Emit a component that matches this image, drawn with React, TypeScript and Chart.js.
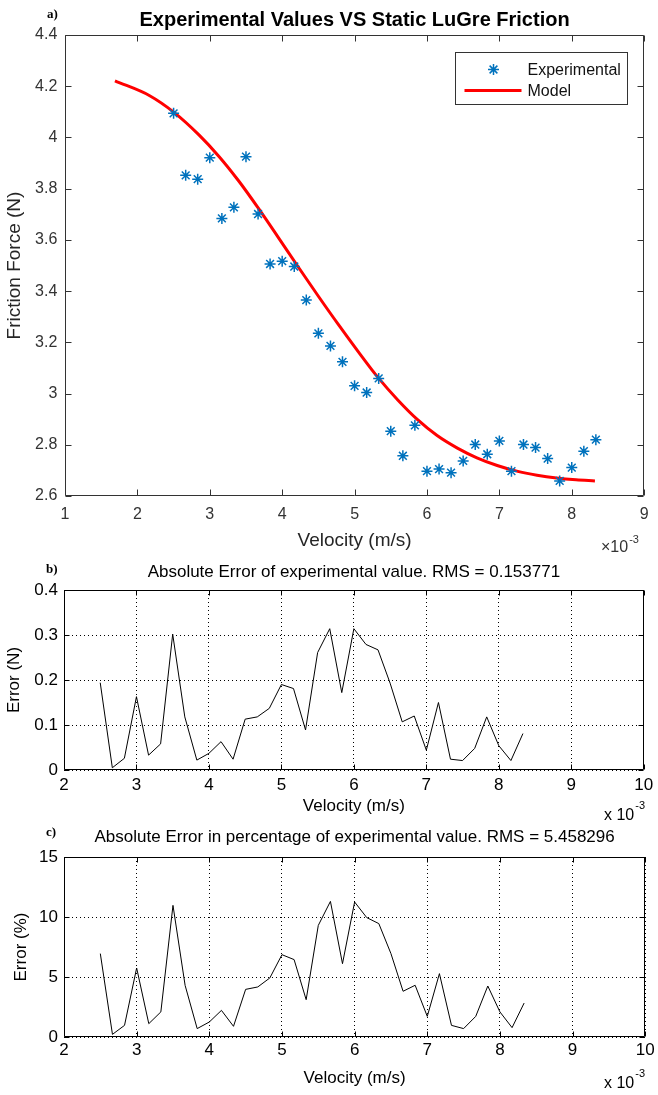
import React, { useEffect, useRef } from 'react';
import { Chart, registerables } from 'chart.js';

Chart.register(...registerables);

// Velocity in units of 1e-3 m/s (axes show "x 10^-3")
const velocity = [
  2.5, 2.667, 2.833, 3.0, 3.167, 3.333, 3.5, 3.667, 3.833, 4.0, 4.167, 4.333,
  4.5, 4.667, 4.833, 5.0, 5.167, 5.333, 5.5, 5.667, 5.833, 6.0, 6.167, 6.333,
  6.5, 6.667, 6.833, 7.0, 7.167, 7.333, 7.5, 7.667, 7.833, 8.0, 8.167, 8.333,
];

const experimentalForce = [
  4.094, 3.852, 3.837, 3.921, 3.684, 3.727, 3.925, 3.701, 3.506, 3.517, 3.496, 3.365,
  3.235, 3.186, 3.124, 3.030, 3.004, 3.059, 2.853, 2.757, 2.876, 2.697, 2.705, 2.691,
  2.737, 2.801, 2.763, 2.815, 2.697, 2.801, 2.789, 2.746, 2.659, 2.711, 2.775, 2.820,
];

const modelVelocity = [
  1.69, 2.17, 2.51, 2.85, 3.13, 3.4, 3.68, 3.95, 4.22, 4.5, 4.77, 5.05,
  5.32, 5.6, 5.87, 6.14, 6.42, 6.69, 6.97, 7.24, 7.52, 7.79, 8.06, 8.32,
];

const modelForce = [
  4.221, 4.163, 4.097, 4.01, 3.925, 3.83, 3.72, 3.608, 3.495, 3.38, 3.272, 3.164,
  3.064, 2.974, 2.898, 2.836, 2.787, 2.749, 2.719, 2.697, 2.681, 2.67, 2.663, 2.659,
];

const absoluteError = [
  0.194, 0.005, 0.026, 0.163, 0.033, 0.058, 0.302, 0.118, 0.022, 0.037, 0.063, 0.024,
  0.113, 0.118, 0.137, 0.19, 0.181, 0.089, 0.261, 0.314, 0.172, 0.314, 0.279, 0.267,
  0.193, 0.107, 0.12, 0.044, 0.15, 0.024, 0.021, 0.048, 0.118, 0.054, 0.021, 0.081,
];

const percentError = [
  6.95, 0.22, 0.97, 5.75, 1.11, 2.09, 10.97, 4.3, 0.7, 1.25, 2.22, 0.89,
  3.97, 4.17, 4.92, 6.86, 6.45, 3.11, 9.3, 11.3, 6.11, 11.25, 9.95, 9.45,
  6.95, 3.81, 4.31, 1.72, 5.28, 0.97, 0.7, 1.72, 4.25, 2.09, 0.78, 2.83,
];

// axis ranges: [min, max, step]
const velocityAxisA = [1, 9, 1];
const forceAxis = [2.6, 4.4, 0.2];
const velocityAxisB = [2, 10, 1];
const absErrorAxis = [0, 0.4, 0.1];
const pctErrorAxis = [0, 15, 5];

const SANS = '"Liberation Sans", Arial, Helvetica, sans-serif';
const SERIF = '"Liberation Serif", "Times New Roman", serif';

const cleanTick = (v: any) => String(Math.round(Number(v) * 1000) / 1000);

const framePlugin = {
  id: 'frame',
  afterDraw(chart: any, _a: any, o: any) {
    const { ctx, chartArea } = chart;
    const l = Math.round(chartArea.left) + 0.5;
    const r = Math.round(chartArea.right) - 0.5;
    const t = Math.round(chartArea.top) + 0.5;
    const b = Math.round(chartArea.bottom) - 0.5;
    const xs = chart.scales.x;
    const ys = chart.scales.y;
    ctx.save();
    ctx.setLineDash([]);
    ctx.strokeStyle = o.color;
    ctx.lineWidth = 1;
    ctx.beginPath();
    xs.ticks.forEach((_t: any, i: number) => {
      const p = Math.round(xs.getPixelForTick(i)) + 0.5;
      ctx.moveTo(p, b);
      ctx.lineTo(p, b - o.tick);
      ctx.moveTo(p, t);
      ctx.lineTo(p, t + o.tick);
    });
    ys.ticks.forEach((_t: any, i: number) => {
      const p = Math.round(ys.getPixelForTick(i)) + 0.5;
      ctx.moveTo(l, p);
      ctx.lineTo(l + o.tick, p);
      ctx.moveTo(r, p);
      ctx.lineTo(r - o.tick, p);
    });
    ctx.rect(l, t, r - l, b - t);
    ctx.stroke();
    ctx.restore();
  },
};

const boxLegendPlugin = {
  id: 'boxLegend',
  afterDraw(chart: any, _a: any, o: any) {
    if (!o || !o.show) return;
    const { ctx, chartArea } = chart;
    const w = 172;
    const h = 52;
    const left = Math.round(chartArea.right - 17 - w) + 0.5;
    const top = Math.round(chartArea.top + 17) + 0.5;
    const ds = chart.data.datasets;
    ctx.save();
    ctx.fillStyle = '#fff';
    ctx.fillRect(left, top, w, h);
    ctx.strokeStyle = '#333';
    ctx.lineWidth = 1;
    ctx.strokeRect(left, top, w, h);
    const y1 = top + 17;
    const y2 = top + 38;
    const mx = left + 38;
    const rad = 5.5;
    ctx.strokeStyle = ds[0].pointBorderColor;
    ctx.lineWidth = 1.5;
    ctx.beginPath();
    for (let k = 0; k < 4; k++) {
      const ang = (k * Math.PI) / 4;
      ctx.moveTo(mx - Math.cos(ang) * rad, y1 - Math.sin(ang) * rad);
      ctx.lineTo(mx + Math.cos(ang) * rad, y1 + Math.sin(ang) * rad);
    }
    ctx.stroke();
    ctx.strokeStyle = ds[1].borderColor;
    ctx.lineWidth = 3;
    ctx.beginPath();
    ctx.moveTo(left + 9, y2);
    ctx.lineTo(left + 66, y2);
    ctx.stroke();
    ctx.fillStyle = '#111';
    ctx.font = `16px ${SANS}`;
    ctx.textAlign = 'left';
    ctx.textBaseline = 'middle';
    ctx.fillText(ds[0].label, left + 72, y1 + 1);
    ctx.fillText(ds[1].label, left + 72, y2 + 1);
    ctx.restore();
  },
};

const annotatePlugin = {
  id: 'annotate',
  afterDraw(chart: any, _a: any, o: any) {
    const { ctx, chartArea } = chart;
    ctx.save();
    ctx.textBaseline = 'alphabetic';
    if (o.title) {
      ctx.font = o.title.font;
      ctx.fillStyle = o.title.color;
      ctx.textAlign = 'center';
      ctx.fillText(o.title.text, (chartArea.left + chartArea.right) / 2, o.title.y);
    }
    if (o.tag) {
      ctx.font = o.tag.font;
      ctx.fillStyle = '#000';
      ctx.textAlign = 'left';
      ctx.fillText(o.tag.text, o.tag.x, o.tag.y);
    }
    if (o.exponent) {
      const e = o.exponent;
      ctx.fillStyle = e.color;
      ctx.textAlign = 'left';
      ctx.font = e.font;
      ctx.fillText(e.base, e.x, e.y);
      const wBase = ctx.measureText(e.base).width;
      ctx.font = e.supFont;
      ctx.fillText(e.sup, e.x + wBase + 1, e.y - e.raise);
    }
    ctx.restore();
  },
};

function configA(): any {
  const tickColor = '#333';
  return {
    type: 'scatter',
    data: {
      datasets: [
        {
          label: 'Experimental',
          data: velocity.map((v, i) => ({ x: v, y: experimentalForce[i] })),
          showLine: false,
          pointStyle: 'star',
          pointRadius: 5.5,
          pointBorderWidth: 1.5,
          pointBorderColor: '#0072BD',
          pointBackgroundColor: '#0072BD',
          order: 0,
        },
        {
          label: 'Model',
          data: modelVelocity.map((v, i) => ({ x: v, y: modelForce[i] })),
          showLine: true,
          borderColor: '#ff0000',
          borderWidth: 3,
          pointRadius: 0,
          cubicInterpolationMode: 'monotone',
          order: 1,
        },
      ],
    },
    options: {
      responsive: false,
      animation: false,
      devicePixelRatio: 1,
      events: [],
      layout: { padding: { left: 0, right: 10, top: 35, bottom: 0 } },
      plugins: {
        legend: { display: false },
        tooltip: { enabled: false },
        frame: { color: '#333', tick: 6 },
        boxLegend: { show: true },
        annotate: {
          title: {
            text: 'Experimental Values VS Static LuGre Friction',
            font: `bold 20px ${SANS}`,
            color: '#000',
            y: 26,
          },
          tag: { text: 'a)', font: `bold 13px ${SERIF}`, x: 47, y: 18 },
          exponent: {
            base: '\u00d710',
            sup: '-3',
            font: `16px ${SANS}`,
            supFont: `11px ${SANS}`,
            color: '#333',
            x: 601,
            y: 552,
            raise: 9,
          },
        },
      },
      scales: {
        x: {
          type: 'linear',
          min: velocityAxisA[0],
          max: velocityAxisA[1],
          ticks: {
            stepSize: velocityAxisA[2],
            autoSkip: false,
            maxRotation: 0,
            padding: 9.4,
            color: tickColor,
            font: { family: SANS, size: 16 },
            callback: cleanTick,
          },
          grid: { display: false, drawTicks: false },
          border: { display: false },
          title: {
            display: true,
            text: 'Velocity (m/s)',
            color: '#262626',
            font: { family: SANS, size: 19 },
            padding: { top: 0, bottom: 7.6 },
          },
          afterFit: (s: any) => {
            s.height = 64;
          },
        },
        y: {
          type: 'linear',
          min: forceAxis[0],
          max: forceAxis[1],
          ticks: {
            stepSize: forceAxis[2],
            autoSkip: false,
            padding: 7.7,
            color: tickColor,
            font: { family: SANS, size: 16 },
            callback: cleanTick,
          },
          grid: { display: false, drawTicks: false },
          border: { display: false },
          title: {
            display: true,
            text: 'Friction Force (N)',
            color: '#262626',
            font: { family: SANS, size: 19 },
            padding: { top: 3.6, bottom: 0 },
          },
          afterFit: (s: any) => {
            s.width = 65;
          },
        },
      },
    },
    plugins: [framePlugin, boxLegendPlugin, annotatePlugin],
  };
}

function configError(
  values: number[],
  yAxis: number[],
  yLabel: string,
  title: string,
  tag: string,
  geo: {
    xHeight: number;
    xTickPad: number;
    xTitlePad: number;
    yTitlePad: number;
    titleY: number;
    tagY: number;
    expY: number;
  }
): any {
  return {
    type: 'scatter',
    data: {
      datasets: [
        {
          label: yLabel,
          data: velocity.map((v, i) => ({ x: v, y: values[i] })),
          showLine: true,
          borderColor: '#000',
          borderWidth: 1,
          pointRadius: 0,
          tension: 0,
        },
      ],
    },
    options: {
      responsive: false,
      animation: false,
      devicePixelRatio: 1,
      events: [],
      layout: { padding: { left: 0, right: 10, top: 35, bottom: 0 } },
      plugins: {
        legend: { display: false },
        tooltip: { enabled: false },
        frame: { color: '#000', tick: 5 },
        boxLegend: { show: false },
        annotate: {
          title: { text: title, font: `17px ${SANS}`, color: '#000', y: geo.titleY },
          tag: { text: tag, font: `bold 13px ${SERIF}`, x: 46, y: geo.tagY },
          exponent: {
            base: 'x 10',
            sup: '-3',
            font: `16px ${SANS}`,
            supFont: `11px ${SANS}`,
            color: '#000',
            x: 604,
            y: geo.expY,
            raise: 11,
          },
        },
      },
      scales: {
        x: {
          type: 'linear',
          min: velocityAxisB[0],
          max: velocityAxisB[1],
          ticks: {
            stepSize: velocityAxisB[2],
            autoSkip: false,
            maxRotation: 0,
            padding: geo.xTickPad,
            color: '#000',
            font: { family: SANS, size: 17 },
            callback: cleanTick,
          },
          grid: { color: '#000', lineWidth: 1, drawTicks: false },
          border: { display: false, dash: [1, 3] },
          title: {
            display: true,
            text: 'Velocity (m/s)',
            color: '#000',
            font: { family: SANS, size: 17 },
            padding: { top: 0, bottom: geo.xTitlePad },
          },
          afterFit: (s: any) => {
            s.height = geo.xHeight;
          },
        },
        y: {
          type: 'linear',
          min: yAxis[0],
          max: yAxis[1],
          ticks: {
            stepSize: yAxis[2],
            autoSkip: false,
            padding: 6,
            color: '#000',
            font: { family: SANS, size: 17 },
            callback: cleanTick,
          },
          grid: { color: '#000', lineWidth: 1, drawTicks: false },
          border: { display: false, dash: [1, 3] },
          title: {
            display: true,
            text: yLabel,
            color: '#000',
            font: { family: SANS, size: 17 },
            padding: { top: geo.yTitlePad, bottom: 0 },
          },
          afterFit: (s: any) => {
            s.width = 64;
          },
        },
      },
    },
    plugins: [framePlugin, annotatePlugin],
  };
}

export default function App() {
  const refA = useRef<HTMLCanvasElement>(null);
  const refB = useRef<HTMLCanvasElement>(null);
  const refC = useRef<HTMLCanvasElement>(null);

  useEffect(() => {
    const charts: Chart[] = [];
    if (refA.current) charts.push(new Chart(refA.current, configA()));
    if (refB.current)
      charts.push(
        new Chart(
          refB.current,
          configError(
            absoluteError,
            absErrorAxis,
            'Error (N)',
            'Absolute Error of experimental value. RMS = 0.153771',
            'b)',
            { xHeight: 60, xTickPad: 4.8, xTitlePad: 13.1, yTitlePad: 3.8, titleY: 22, tagY: 18, expY: 265 }
          )
        )
      );
    if (refC.current)
      charts.push(
        new Chart(
          refC.current,
          configError(
            percentError,
            pctErrorAxis,
            'Error (%)',
            'Absolute Error in percentage of experimental value. RMS = 5.458296',
            'c)',
            { xHeight: 58, xTickPad: 3.3, xTitlePad: 6.8, yTitlePad: 10.8, titleY: 20, tagY: 14, expY: 266 }
          )
        )
      );
    return () => charts.forEach((c) => c.destroy());
  }, []);

  return (
    <div
      style={{
        position: 'absolute',
        left: 0,
        top: 0,
        width: 658,
        height: 1095,
        background: '#fff',
        overflow: 'hidden',
      }}
    >
      <canvas ref={refA} width={658} height={560} style={{ position: 'absolute', left: 0, top: 0 }} />
      <canvas ref={refB} width={658} height={275} style={{ position: 'absolute', left: 0, top: 555 }} />
      <canvas ref={refC} width={658} height={273} style={{ position: 'absolute', left: 0, top: 822 }} />
    </div>
  );
}
